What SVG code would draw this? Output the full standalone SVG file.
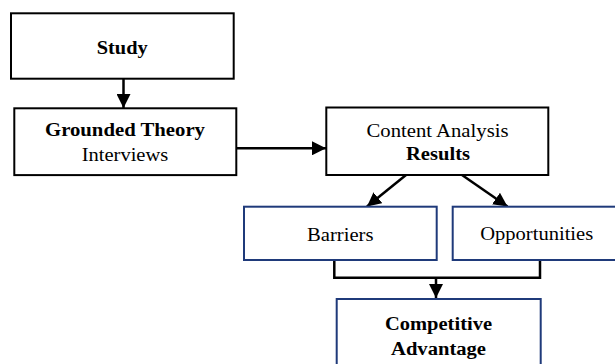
<svg xmlns="http://www.w3.org/2000/svg" width="615" height="364" viewBox="0 0 615 364">
<style>
.bk{fill:#fff;stroke:#000;stroke-width:2}
.bl{fill:#fff;stroke:#1f3a7a;stroke-width:2}
text{font-family:"Liberation Serif","Times New Roman",serif;font-size:18px;fill:#000;text-anchor:middle}
.b{font-weight:bold}
.c{fill:none;stroke:#000;stroke-width:2.5}
</style>
<defs>
<marker id="ah" viewBox="0 0 10 10" refX="10" refY="5" markerWidth="5.6" markerHeight="5.6" markerUnits="strokeWidth" orient="auto">
<path d="M0,0 L10,5 L0,10 z" fill="#000"/>
</marker>
</defs>
<rect width="615" height="364" fill="#fff"/>
<g id="connectors">
<line class="c" x1="123.5" y1="79" x2="123.5" y2="108" marker-end="url(#ah)"/>
<line class="c" x1="236" y1="148.3" x2="326" y2="148.3" marker-end="url(#ah)"/>
<line class="c" x1="406" y1="175" x2="367" y2="206.5" marker-end="url(#ah)"/>
<line class="c" x1="462" y1="175" x2="507.5" y2="206.5" marker-end="url(#ah)"/>
<polyline class="c" points="334.3,260 334.3,277.7 540,277.7 540,260"/>
<line class="c" x1="436" y1="277.7" x2="436" y2="298" marker-end="url(#ah)"/>
</g>
<g id="study">
<rect class="bk" x="11" y="13.3" width="222.7" height="65.4"/>
<text class="b" x="122.2" y="54.3" textLength="51" lengthAdjust="spacingAndGlyphs">Study</text>
</g>
<g id="grounded">
<rect class="bk" x="14.3" y="108.3" width="222" height="66.8"/>
<text class="b" x="125" y="136" textLength="160" lengthAdjust="spacingAndGlyphs">Grounded Theory</text>
<text x="125" y="161" textLength="86.6" lengthAdjust="spacingAndGlyphs">Interviews</text>
</g>
<g id="content">
<rect class="bk" x="326.3" y="107.5" width="222" height="67.5"/>
<text x="437.5" y="136.7" textLength="142" lengthAdjust="spacingAndGlyphs">Content Analysis</text>
<text class="b" x="438" y="160" textLength="64" lengthAdjust="spacingAndGlyphs">Results</text>
</g>
<g id="barriers">
<rect class="bl" x="244" y="206.7" width="192.7" height="53.3"/>
<text x="340.3" y="241" textLength="66.5" lengthAdjust="spacingAndGlyphs">Barriers</text>
</g>
<g id="opportunities">
<rect class="bl" x="452.7" y="206.7" width="170" height="53.3"/>
<text x="536.7" y="240" textLength="113" lengthAdjust="spacingAndGlyphs">Opportunities</text>
</g>
<g id="competitive">
<rect class="bl" x="336.7" y="299" width="204" height="80"/>
<text class="b" x="438.5" y="330" textLength="107" lengthAdjust="spacingAndGlyphs">Competitive</text>
<text class="b" x="438.5" y="355" textLength="95" lengthAdjust="spacingAndGlyphs">Advantage</text>
</g>
</svg>
